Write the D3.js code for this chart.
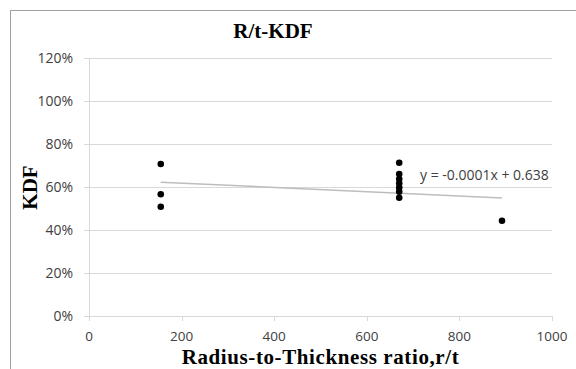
<!DOCTYPE html>
<html><head><meta charset="utf-8">
<script src="https://cdn.jsdelivr.net/npm/d3@7"></script>
<style>body{margin:0;background:#fff;}svg{display:block;}</style>
</head><body>
<svg id="c" width="576" height="369"></svg>
<script>
// Data
const rtValues  = [155, 155, 155, 670, 670, 670, 670, 670, 670, 670, 892];
const kdfValues = [0.707, 0.566, 0.508, 0.713, 0.660, 0.637, 0.617, 0.597, 0.578, 0.550, 0.443];
const trendSlope = -0.0001;
const trendIntercept = 0.638;
const xTicks = [0, 200, 400, 600, 800, 1000];
const yTicks = [0, 0.2, 0.4, 0.6, 0.8, 1.0, 1.2];
const titleText = "R/t-KDF";
const xTitle = "Radius-to-Thickness ratio,r/t";
const yTitle = "KDF";
const eqText = "y = -0.0001x + 0.638";

const svg = d3.select("#c");
const x = d3.scaleLinear().domain([0, 1000]).range([89, 552]);
const y = d3.scaleLinear().domain([0, 1.2]).range([316, 58]);

// frame
svg.append("line").attr("x1", 11).attr("x2", 576).attr("y1", 10.5).attr("y2", 10.5).attr("stroke", "#a0a0a0");
svg.append("line").attr("x1", 10.5).attr("x2", 10.5).attr("y1", 10).attr("y2", 369).attr("stroke", "#a0a0a0");

// grid
svg.append("g").selectAll("line").data(yTicks).join("line")
  .attr("x1", 84).attr("x2", x(1000))
  .attr("y1", d => Math.round(y(d)) + 0.5).attr("y2", d => Math.round(y(d)) + 0.5)
  .attr("stroke", "#d9d9d9");
// y axis line
svg.append("line").attr("x1", x(0) + 0.5).attr("x2", x(0) + 0.5).attr("y1", y(1.2)).attr("y2", y(0) + 5).attr("stroke", "#d9d9d9");
// x tick marks
svg.append("g").selectAll("line").data(xTicks).join("line")
  .attr("x1", d => Math.round(x(d)) + 0.5).attr("x2", d => Math.round(x(d)) + 0.5)
  .attr("y1", y(0)).attr("y2", y(0) + 5)
  .attr("stroke", "#d9d9d9");

const fmtPct = d3.format(".0%");
svg.append("g").selectAll("text").data(yTicks).join("text")
  .attr("x", 73).attr("y", d => y(d)).attr("dy", "0.36em")
  .attr("text-anchor", "end")
  .attr("font-family", "Open Sans").attr("font-size", 14).attr("fill", "#404040")
  .text(d => fmtPct(d));
svg.append("g").selectAll("text").data(xTicks).join("text")
  .attr("x", d => x(d)).attr("y", 340.5)
  .attr("text-anchor", "middle")
  .attr("font-family", "Open Sans").attr("font-size", 13.5).attr("fill", "#404040")
  .text(d => d);

// trendline
const xMin = d3.min(rtValues), xMax = d3.max(rtValues);
svg.append("line")
  .attr("x1", x(xMin)).attr("y1", y(trendSlope * xMin + trendIntercept))
  .attr("x2", x(xMax)).attr("y2", y(trendSlope * xMax + trendIntercept))
  .attr("stroke", "#bdbdbd").attr("stroke-width", 1.5);

// points
svg.append("g").selectAll("circle").data(rtValues.map((v, i) => [v, kdfValues[i]])).join("circle")
  .attr("cx", d => x(d[0])).attr("cy", d => y(d[1])).attr("r", 3.3).attr("fill", "#000");

// equation
svg.append("text").attr("x", 420).attr("y", 180)
  .attr("font-family", "Open Sans").attr("font-size", 14).attr("fill", "#404040")
  .text(eqText);

// titles
svg.append("text").attr("x", 273).attr("y", 38).attr("text-anchor", "middle")
  .attr("font-family", "Liberation Serif").attr("font-weight", "bold").attr("font-size", 21)
  .text(titleText);
svg.append("text").attr("x", 320.5).attr("y", 364).attr("text-anchor", "middle")
  .attr("font-family", "Liberation Serif").attr("font-weight", "bold").attr("font-size", 21)
  .attr("letter-spacing", 0.6)
  .text(xTitle);
svg.append("text").attr("transform", "translate(37,187.5) rotate(-90)").attr("text-anchor", "middle")
  .attr("font-family", "Liberation Serif").attr("font-weight", "bold").attr("font-size", 21)
  .text(yTitle);
</script>
</body></html>
